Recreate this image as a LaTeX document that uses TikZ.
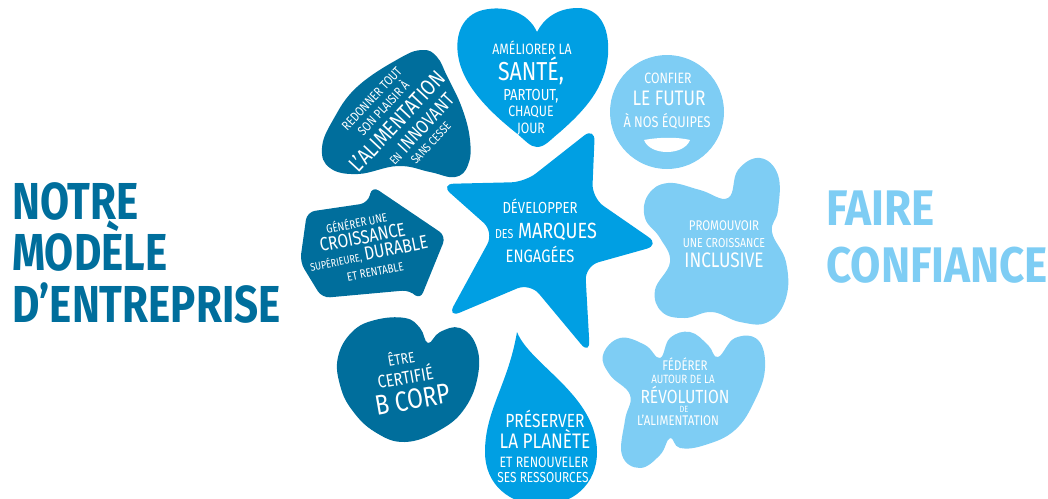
\documentclass[tikz,border=0pt]{standalone}
\usepackage{fontspec}
\setmainfont{Fira Sans}
\newfontfamily\titlefont[FakeStretch=0.81]{Fira Sans}
\newfontfamily\titlewide[FakeStretch=0.88]{Fira Sans}
\newfontfamily\handfont[FakeStretch=0.82]{Fira Sans}
\definecolor{dkblue}{RGB}{0,110,156}
\definecolor{mdblue}{RGB}{0,159,227}
\definecolor{ltblue}{RGB}{126,205,244}
\newcommand{\sz}[1]{\fontsize{#1}{#1}\selectfont}
\tikzset{
	lbl/.style={text=white, anchor=base, inner sep=0pt, font=\handfont\sz{#1}},
	bigtitle/.style={anchor=base west, inner sep=0pt, font=\titlefont\bfseries\sz{#1}},
	blob/.style={smooth cycle, tension=0.7}
}

\begin{document}
\begin{tikzpicture}[x=1pt, y=-1pt]
	\useasboundingbox (0,0) rectangle (1048,498);

	% titres
	\node[bigtitle=52, text=dkblue] (notre) at (12,219) {NOTRE};
	\node[bigtitle=52, text=dkblue] (modele) at (12,270) {MODÈLE};
	\node[bigtitle=52, text=dkblue] (entreprise) at (12,322) {D’ENTREPRISE};
	\node[bigtitle=50, text=ltblue, font=\titlewide\bfseries\sz{50}] (faire) at (826,225) {FAIRE};
	\node[bigtitle=50, text=ltblue, font=\titlewide\bfseries\sz{50}] (confiance) at (826,282) {CONFIANCE};

	% formes
	\fill[dkblue] plot[blob] coordinates {(423,50) (400,58) (357,87) (333,120) (322,148) (330,168) (358,174) (398,166) (430,172) (455,177) (468,165) (470,140) (462,108) (447,76) (437,57)};
	\fill[mdblue] (537,32) .. controls (528,12) and (505,5) .. (483,10) .. controls (462,15) and (455,35) .. (458,55) .. controls (462,85) and (490,112) .. (515,132) .. controls (525,140) and (530,147) .. (537,147) .. controls (545,147) and (550,140) .. (560,132) .. controls (585,110) and (605,88) .. (608,55) .. controls (610,25) and (598,8) .. (578,8) .. controls (558,8) and (544,18) .. (537,32) -- cycle;
	\fill[ltblue] (667,112) circle[radius=57];
	\fill[white] (644,140) .. controls (660,137) and (678,137) .. (690,140) .. controls (684,156) and (650,156) .. (644,140) -- cycle;
	\fill[mdblue, rounded corners=14pt] (440,184) -- (525,182) -- (595,127) -- (592,198) -- (660,245) -- (585,266) -- (590,355) -- (530,283) -- (447,318) -- (494,232) -- cycle;
	\fill[ltblue] plot[blob] coordinates {(648,195) (668,183) (700,190) (728,198) (738,170) (760,158) (778,175) (778,210) (772,232) (786,262) (786,298) (768,322) (740,322) (712,312) (685,318) (662,312) (655,290) (670,262) (660,238) (645,218)};
	\fill[dkblue, rounded corners=8pt] (307,212) -- (368,203) -- (372,186) -- (446,236) -- (420,300) -- (410,290) -- (322,298) -- (300,262) -- cycle;
	\fill[dkblue] plot[blob] coordinates {(338,357) (352,332) (375,320) (405,318) (420,328) (428,343) (440,332) (460,328) (476,345) (478,375) (465,408) (440,430) (405,442) (375,432) (352,410) (340,385)};
	\fill[mdblue] (517,332) .. controls (530,365) and (597,395) .. (597,452) .. controls (597,485) and (572,505) .. (542,505) .. controls (510,505) and (485,485) .. (485,452) .. controls (485,410) and (508,385) .. (517,332) -- cycle;
	\fill[ltblue] plot[blob] coordinates {(603,355) (620,338) (645,345) (660,358) (670,338) (690,332) (708,345) (718,357) (735,338) (758,340) (765,368) (755,400) (735,430) (705,445) (680,448) (670,438) (660,455) (640,468) (622,455) (625,420) (630,395) (610,375)};

	% textes
	\begin{scope}[shift={(397,121)}, rotate=47, transform shape]
		\node[lbl=13] (plaisir1) at (-1,-29) {REDONNER TOUT};
		\node[lbl=13] (plaisir2) at (0,-14) {SON PLAISIR À};
		\node[lbl=22] (plaisir3) at (0,8) {L’ALIMENTATION};
		\node[lbl=19] (plaisir4) at (10,29) {{\sz{12}EN} INNOVANT};
		\node[lbl=12] (plaisir5) at (7,44) {SANS CESSE};
	\end{scope}

	\node[lbl=15] (sante1) at (532,54) {AMÉLIORER LA};
	\node[lbl=26] (sante2) at (531,80) {SANTÉ,};
	\node[lbl=16] (sante3) at (531,100) {PARTOUT,};
	\node[lbl=15] (sante4) at (531,116) {CHAQUE};
	\node[lbl=15] (sante5) at (531,133) {JOUR};

	\node[lbl=15] (futur1) at (668,83) {CONFIER};
	\node[lbl=21] (futur2) at (669,105) {LE FUTUR};
	\node[lbl=15.5] (futur3) at (667,127) {À NOS ÉQUIPES};

	\node[lbl=16] (marques1) at (540,213) {DÉVELOPPER};
	\node[lbl=22] (marques2) at (546,238) {{\sz{13}DES} MARQUES};
	\node[lbl=18] (marques3) at (540,262) {ENGAGÉES};

	\node[lbl=14] (inclus1) at (724,230) {PROMOUVOIR};
	\node[lbl=13] (inclus2) at (724,247) {UNE CROISSANCE};
	\node[lbl=21] (inclus3) at (724,267) {INCLUSIVE};

	\begin{scope}[shift={(368,250)}, rotate=11, transform shape]
		\node[lbl=12] (durable1) at (-6,-24) {GÉNÉRER UNE};
		\node[lbl=19] (durable2) at (-3,-7) {CROISSANCE};
		\node[lbl=19] (durable3) at (0,10) {{\sz{11}SUPÉRIEURE,}\,DURABLE};
		\node[lbl=12] (durable4) at (3,27) {ET RENTABLE};
	\end{scope}

	\begin{scope}[shift={(406,380)}, rotate=10, transform shape]
		\node[lbl=15] (bcorp1) at (-1,-16) {ÊTRE};
		\node[lbl=18] (bcorp2) at (0,4) {CERTIFIÉ};
		\node[lbl=28] (bcorp3) at (3,30) {B CORP};
	\end{scope}

	\node[lbl=19] (planete1) at (545,427) {PRÉSERVER};
	\node[lbl=21] (planete2) at (545,448) {LA PLANÈTE};
	\node[lbl=15] (planete3) at (544,467) {ET RENOUVELER};
	\node[lbl=14.5] (planete4) at (543,482) {SES RESSOURCES};

	\node[lbl=14] (revol1) at (685,370) {FÉDÉRER};
	\node[lbl=12] (revol2) at (683,383) {AUTOUR DE LA};
	\node[lbl=19] (revol3) at (685,403) {RÉVOLUTION};
	\node[lbl=9] (revol4) at (684,412) {DE};
	\node[lbl=14] (revol5) at (678,425) {L’ALIMENTATION};
\end{tikzpicture}
\end{document}
